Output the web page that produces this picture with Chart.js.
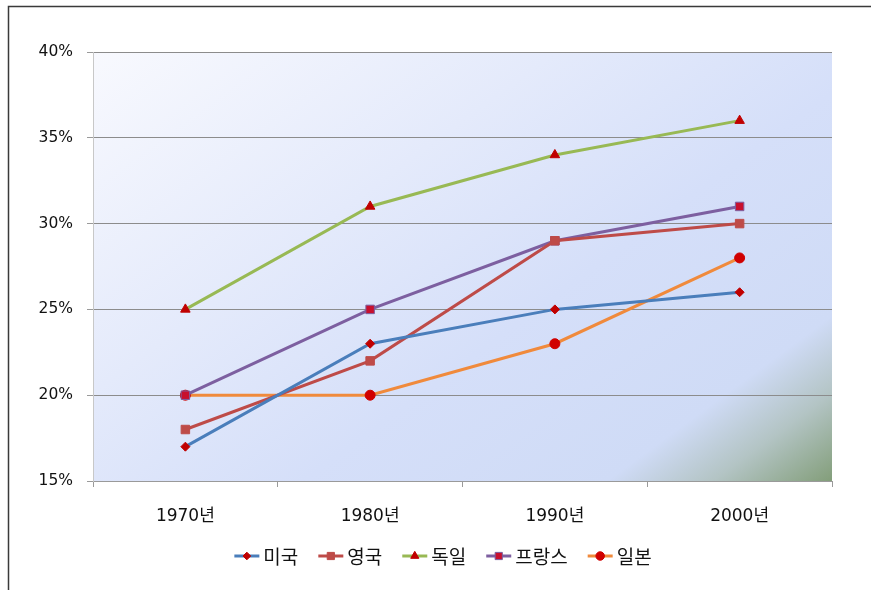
<!DOCTYPE html>
<html><head><meta charset="utf-8">
<script src="https://cdn.jsdelivr.net/npm/chart.js@4/dist/chart.umd.min.js"></script>
<style>html,body{margin:0;padding:0;background:#fff}#wrap{width:871px;height:590px}</style>
</head><body><div id="wrap"><canvas id="c" width="871" height="590"></canvas></div>
<script>
const categories = ['1970년', '1980년', '1990년', '2000년'];
const seriesNames = ['미국', '영국', '독일', '프랑스', '일본'];
const usa = [17, 23, 25, 26];
const uk = [18, 22, 29, 30];
const germany = [25, 31, 34, 36];
const france = [20, 25, 29, 31];
const japan = [20, 20, 23, 28];
const yTicks = [15, 20, 25, 30, 35, 40];

const lineColors = ['#4A7EBB', '#BE4B48', '#98B954', '#7D5FA0', '#F08A3C'];
const markerFill = ['#C00000', '#BE4B48', '#C00000', '#C8102E', '#D00000'];
const markerBorder = ['#C00000', '#BE4B48', '#C00000', '#7D5FA0', '#D00000'];
const markerStyle = ['rectRot', 'rect', 'triangle', 'rect', 'circle'];
const markerRadius = [4.5, 6, 5.5, 6, 5];
const seriesData = [usa, uk, germany, france, japan];

const datasets = seriesNames.map((n, i) => ({
  label: n,
  data: seriesData[i],
  borderColor: lineColors[i],
  borderWidth: 3,
  backgroundColor: markerFill[i],
  pointBackgroundColor: markerFill[i],
  pointBorderColor: markerBorder[i],
  pointBorderWidth: 1,
  pointStyle: markerStyle[i],
  pointRadius: markerRadius[i],
  pointHoverRadius: markerRadius[i],
  tension: 0,
  order: i
}));

const bgPlugin = {
  id: 'bg',
  beforeDraw(chart) {
    const {ctx, chartArea: a} = chart;
    ctx.save();
    ctx.fillStyle = '#fff';
    ctx.fillRect(0, 0, chart.width, chart.height);
    const t = ((a.right - a.left) * 141 + (a.bottom - a.top) * 192) / (141 * 141 + 192 * 192);
    const g = ctx.createLinearGradient(a.left, a.top, a.left + 141 * t, a.top + 192 * t);
    g.addColorStop(0, '#f8f9fe');
    g.addColorStop(0.35, '#e4eafb');
    g.addColorStop(0.6, '#d5dff9');
    g.addColorStop(0.83, '#cfdbf6');
    g.addColorStop(0.91, '#b3c4c4');
    g.addColorStop(1, '#839e7a');
    ctx.fillStyle = g;
    ctx.fillRect(a.left, a.top, a.right - a.left, a.bottom - a.top);
    ctx.restore();
  },
  afterDraw(chart) {
    const ctx = chart.ctx;
    ctx.save();
    ctx.strokeStyle = '#3a3a3a';
    ctx.lineWidth = 1.5;
    ctx.beginPath();
    ctx.moveTo(8.5, 600);
    ctx.lineTo(8.5, 6.5);
    ctx.lineTo(880, 6.5);
    ctx.stroke();
    // legend
    ctx.font = '19px "Noto Sans CJK KR", sans-serif';
    ctx.textBaseline = 'middle';
    const lineLen = 25, gapText = 4, gapItem = 20;
    const widths = seriesNames.map(n => lineLen + gapText + ctx.measureText(n).width);
    const total = widths.reduce((s, w) => s + w, 0) + gapItem * (seriesNames.length - 1);
    let x = 443 - total / 2;
    const y = 556;
    seriesNames.forEach((n, i) => {
      ctx.strokeStyle = lineColors[i];
      ctx.lineWidth = 3;
      ctx.beginPath();
      ctx.moveTo(x, y); ctx.lineTo(x + lineLen, y);
      ctx.stroke();
      ctx.fillStyle = markerFill[i];
      ctx.strokeStyle = markerBorder[i];
      ctx.lineWidth = 1;
      Chart.helpers.drawPoint(ctx, {pointStyle: markerStyle[i], radius: markerRadius[i] * 0.85, borderWidth: 1, rotation: 0}, x + lineLen / 2, y);
      ctx.fillStyle = '#111';
      ctx.fillText(n, x + lineLen + gapText, y + 1);
      x += widths[i] + gapItem;
    });
    ctx.restore();
  }
};

new Chart(document.getElementById('c'), {
  type: 'line',
  data: { labels: categories, datasets },
  options: {
    responsive: false,
    animation: false,
    devicePixelRatio: 1,
    layout: { padding: { left: 8, right: 39, top: 52, bottom: 0 } },
    plugins: { legend: { display: false }, tooltip: { enabled: false } },
    scales: {
      x: {
        offset: true,
        afterFit(s) { s.height = 109; },
        grid: { offset: true, drawOnChartArea: false, drawTicks: true, tickLength: 6, color: '#9a9a9a', tickColor: '#9a9a9a' },
        border: { color: '#9a9a9a', width: 1 },
        ticks: { color: '#111', padding: 19, font: { family: '"DejaVu Sans", "Noto Sans CJK KR", sans-serif', size: 17 } }
      },
      y: {
        min: yTicks[0], max: yTicks[yTicks.length - 1],
        afterFit(s) { s.width = 85; },
        afterBuildTicks(s) { s.ticks = yTicks.map(v => ({ value: v })); },
        grid: { color: '#8c8c8c', tickColor: '#9a9a9a', tickLength: 6 },
        border: { color: '#c8c8c8', width: 1 },
        ticks: { color: '#111', padding: 14, callback: v => v + '%', font: { family: '"DejaVu Sans", sans-serif', size: 15.5 } }
      }
    }
  },
  plugins: [bgPlugin]
});
</script></body></html>
